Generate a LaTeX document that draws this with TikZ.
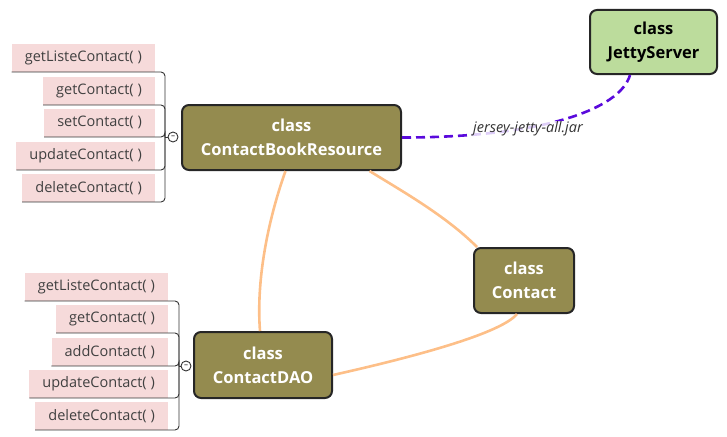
\documentclass[tikz,border=0pt]{standalone}
\usepackage{fontspec}
\setmainfont{Open Sans}
\usepackage{tikz}
\usetikzlibrary{positioning}
\definecolor{classolive}{HTML}{948B4F}
\definecolor{servergreen}{HTML}{BCDC9C}
\definecolor{methodpink}{HTML}{F6DADA}
\definecolor{linkorange}{HTML}{FDBF88}
\definecolor{jarviolet}{HTML}{5A0ADC}

\begin{document}
\begin{tikzpicture}[x=1pt,y=-1pt,
    class/.style={draw=black!85,line width=2pt,rounded corners=7pt,fill=classolive,
      text=white,font=\bfseries\fontsize{16.5}{24}\selectfont,align=center,inner sep=0pt},
    method/.style={fill=methodpink,anchor=south east,minimum height=28pt,inner xsep=13pt,
      inner ysep=0pt,text=black!75,font=\fontsize{14.5}{16}\selectfont},
    branch/.style={draw=black!80,line width=0.9pt,rounded corners=4pt},
    fold/.style={circle,draw=black!80,fill=white,line width=0.9pt,inner sep=0pt,
      minimum size=10pt,font=\fontsize{8}{8}\selectfont},
    link/.style={draw=linkorange,line width=2.6pt},
    jar/.style={draw=jarviolet,line width=2.6pt,dash pattern=on 9pt off 5pt}]
        \useasboundingbox (0,0) rectangle (727,436);

        \node[class,minimum width=219pt,minimum height=65pt] (R) at (291.5,137.5) {class\\ContactBookResource};
        \node[class,minimum width=127pt,minimum height=64pt,fill=servergreen,text=black] (J) at (653.5,42) {class\\JettyServer};
        \node[class,minimum width=100pt,minimum height=65pt] (C) at (524,280.5) {class\\Contact};
        \node[class,minimum width=138pt,minimum height=66pt] (D) at (263,365) {class\\ContactDAO};

        \node[method] (R1) at (155,72) {getListeContact(~)};
        \node[method] (R2) at (155,105) {getContact(~)};
        \node[method] (R3) at (155,137) {setContact(~)};
        \node[method] (R4) at (155,170) {updateContact(~)};
        \node[method] (R5) at (155,202) {deleteContact(~)};
        \coordinate (RH) at (165,137);
        \node[fold] (RF) at (173,137) {--};

        \node[method] (D1) at (168,301) {getListeContact(~)};
        \node[method] (D2) at (168,333) {getContact(~)};
        \node[method] (D3) at (168,366) {addContact(~)};
        \node[method] (D4) at (168,398) {updateContact(~)};
        \node[method] (D5) at (168,430) {deleteContact(~)};
        \coordinate (DH) at (179,366);
        \node[fold] (DF) at (186,366) {--};

        \draw[branch] (R1.south west) -| (RH);
        \draw[branch] (R2.south west) -| (RH);
        \draw[branch] (R3.south west) -| (RH);
        \draw[branch] (R4.south west) -| (RH);
        \draw[branch] (R5.south west) -| (RH);
        \draw[branch] (RH) -- (RF);

        \draw[branch] (D1.south west) -| (DH);
        \draw[branch] (D2.south west) -| (DH);
        \draw[branch] (D3.south west) -| (DH);
        \draw[branch] (D4.south west) -| (DH);
        \draw[branch] (D5.south west) -| (DH);
        \draw[branch] (DH) -- (DF);

        \draw[link] ([xshift=-6pt]R.south) .. controls (268,220) and (256,280) .. ([xshift=-3pt]D.north);
        \draw[link] ([xshift=78pt]R.south) .. controls (400,190) and (445,215) .. ([xshift=4pt]C.north west);
        \draw[link] ([xshift=-7pt]C.south) .. controls (500,335) and (400,360) .. ([yshift=-10pt]D.east);
        \draw[jar] (R.east) .. controls (540,137.5) and (620,110) .. ([xshift=-23.5pt]J.south);
        \node[font=\itshape\fontsize{14.5}{16}\selectfont,text=black!80,fill=white,fill opacity=0.8,
          text opacity=1,inner sep=1pt] (L) at (528,129) {jersey-jetty-all.jar};
      \end{tikzpicture}
\end{document}
